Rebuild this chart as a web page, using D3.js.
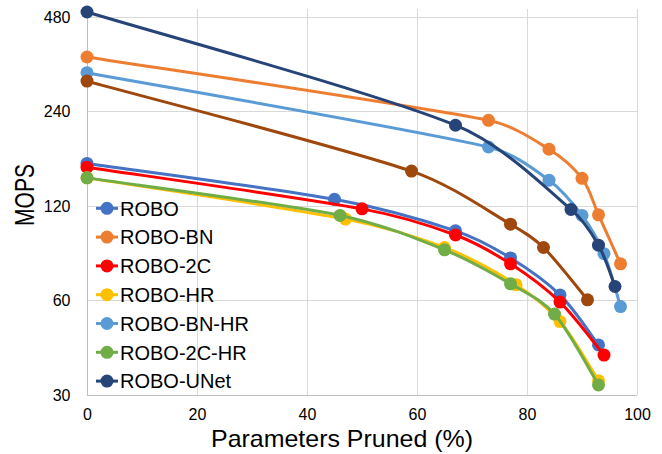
<!DOCTYPE html>
<html>
<head>
<meta charset="utf-8">
<script src="https://cdn.jsdelivr.net/npm/d3@7"></script>
<style>
  html, body { margin: 0; padding: 0; background: #fff; }
  svg { display: block; }
  text { font-family: "Liberation Sans", Arial, sans-serif; fill: #000; }
</style>
</head>
<body>
<svg id="chart" width="662" height="454"></svg>
<script>
// ---- data ----
const seriesNames = ["ROBO", "ROBO-BN", "ROBO-2C", "ROBO-HR", "ROBO-BN-HR", "ROBO-2C-HR", "ROBO-UNet", ""];
const xROBO     = [0, 45, 67, 77, 86, 93];
const yROBO     = [164, 126, 100, 82, 62.5, 43.3];
const xROBO_BN  = [0, 73, 84, 90, 93, 97];
const yROBO_BN  = [358, 225, 182, 147, 112.5, 78.5];
const xROBO_2C  = [0, 50, 67, 77, 86, 94];
const yROBO_2C  = [159.5, 117.5, 97, 78.5, 59.3, 40.2];
const xROBO_HR  = [0, 47, 65, 78, 86, 93];
const yROBO_HR  = [147.5, 109, 88.5, 67.4, 51.4, 33.3];
const xROBO_BN_HR = [0, 73, 84, 90, 94, 97];
const yROBO_BN_HR = [319, 185, 145, 112, 84.6, 57.4];
const xROBO_2C_HR = [0, 46, 65, 77, 85, 93];
const yROBO_2C_HR = [147.5, 112, 87, 67.8, 54.3, 32.3];
const xROBO_UNet = [0, 67, 88, 93, 96];
const yROBO_UNet = [498, 217, 117, 90, 66.5];
const xExtra    = [0, 59, 77, 83, 91];
const yExtra    = [300, 155, 105, 88.5, 60.3];
const colors = ["#4472C4", "#ED7D31", "#FF0000", "#FFC000", "#5B9BD5", "#70AD47", "#264478", "#9E480E"];
const xTicks = [0, 20, 40, 60, 80, 100];
const yTicks = [30, 60, 120, 240, 480];
const xTitle = "Parameters Pruned (%)";
const yTitle = "MOPS";

const xs = [xROBO, xROBO_BN, xROBO_2C, xROBO_HR, xROBO_BN_HR, xROBO_2C_HR, xROBO_UNet, xExtra];
const ys = [yROBO, yROBO_BN, yROBO_2C, yROBO_HR, yROBO_BN_HR, yROBO_2C_HR, yROBO_UNet, yExtra];
const series = seriesNames.map((name, i) => ({
  name, color: colors[i],
  points: xs[i].map((x, j) => ({ x, y: ys[i][j] }))
}));

// ---- layout ----
const svg = d3.select("#chart");
const pLeft = 87, pRight = 637, pTop = 9, pBottom = 395;
const x = d3.scaleLinear().domain([0, 100]).range([pLeft, pRight]);
const y = d3.scaleLog().base(2).domain([30, 509]).range([pBottom, pTop]);

// gridlines
const grid = svg.append("g");
grid.selectAll("line.h").data(yTicks.slice(1)).join("line")
  .attr("x1", pLeft).attr("x2", pRight)
  .attr("y1", d => Math.round(y(d)) + 0.5).attr("y2", d => Math.round(y(d)) + 0.5)
  .attr("stroke", "#D9D9D9").attr("stroke-width", 1);
grid.selectAll("line.v").data(xTicks.slice(1)).join("line")
  .attr("y1", pTop).attr("y2", pBottom)
  .attr("x1", d => Math.round(x(d)) + 0.5).attr("x2", d => Math.round(x(d)) + 0.5)
  .attr("stroke", "#D9D9D9").attr("stroke-width", 1);

// axes
const xAxis = d3.axisBottom(x).tickValues(xTicks).tickSize(0).tickPadding(13);
const yAxis = d3.axisLeft(y).tickValues(yTicks).tickFormat(d3.format("d")).tickSize(0).tickPadding(17);
const gx = svg.append("g").attr("transform", `translate(0,${pBottom + 0.5})`).call(xAxis);
const gy = svg.append("g").attr("transform", `translate(${pLeft + 0.5},0)`).call(yAxis);
gx.select(".domain").attr("stroke", "#BFBFBF").attr("d", `M${pLeft},0H${pRight}`);
gy.select(".domain").attr("stroke", "#BFBFBF").attr("d", `M0,${pTop}V${pBottom}`);
[gx, gy].forEach(g => g.selectAll("text").attr("font-size", 16)
  .attr("font-family", '"Liberation Sans", Arial, sans-serif').attr("fill", "#000"));

// titles
svg.append("text").attr("x", 342).attr("y", 447)
  .attr("text-anchor", "middle").attr("font-size", 24)
  .attr("textLength", 262).attr("lengthAdjust", "spacingAndGlyphs")
  .text(xTitle);
svg.append("text").attr("transform", "translate(34,195) rotate(-90)")
  .attr("text-anchor", "middle").attr("font-size", 28)
  .attr("textLength", 62).attr("lengthAdjust", "spacingAndGlyphs")
  .text(yTitle);

// smoothed line (Excel-like: Catmull-Rom arms T/6, clamped on short segments)
function smoothPath(points) {
  const P = points.map(d => [x(d.x), y(d.y)]);
  const n = P.length;
  const dist = (a, b) => Math.hypot(b[0] - a[0], b[1] - a[1]);
  const clampArm = (arm, segLen) => {
    const L = Math.hypot(arm[0], arm[1]), maxL = segLen * 0.36;
    return L > maxL ? [arm[0] * maxL / L, arm[1] * maxL / L] : arm;
  };
  const p = d3.path();
  p.moveTo(P[0][0], P[0][1]);
  for (let i = 0; i < n - 1; i++) {
    const a = P[i], b = P[i + 1];
    const prev = P[Math.max(0, i - 1)], next = P[Math.min(n - 1, i + 2)];
    const seg = dist(a, b);
    const arm1 = clampArm([(b[0] - prev[0]) / 6, (b[1] - prev[1]) / 6], seg);
    const arm2 = clampArm([(next[0] - a[0]) / 6, (next[1] - a[1]) / 6], seg);
    p.bezierCurveTo(a[0] + arm1[0], a[1] + arm1[1], b[0] - arm2[0], b[1] - arm2[1], b[0], b[1]);
  }
  return p.toString();
}

const sg = svg.append("g").selectAll("g").data(series).join("g");
sg.append("path").attr("d", d => smoothPath(d.points))
  .attr("fill", "none").attr("stroke", d => d.color).attr("stroke-width", 3)
  .attr("stroke-linejoin", "round");
sg.selectAll("circle").data(d => d.points.map(p => ({ ...p, color: d.color }))).join("circle")
  .attr("cx", d => x(d.x)).attr("cy", d => y(d.y)).attr("r", 6.5)
  .attr("fill", d => d.color);

// legend
const legendItems = series.filter(s => s.name !== "");
const lg = svg.append("g").selectAll("g").data(legendItems).join("g")
  .attr("transform", (d, i) => `translate(0,${208.3 + i * 28.8})`);
lg.append("line").attr("x1", 96).attr("x2", 118).attr("y1", 0).attr("y2", 0)
  .attr("stroke", d => d.color).attr("stroke-width", 3);
lg.append("circle").attr("cx", 107).attr("cy", 0).attr("r", 6.5).attr("fill", d => d.color);
lg.append("text").attr("x", 120).attr("y", 0).attr("dy", "0.36em")
  .attr("font-size", 20).text(d => d.name);
</script>
</body>
</html>
